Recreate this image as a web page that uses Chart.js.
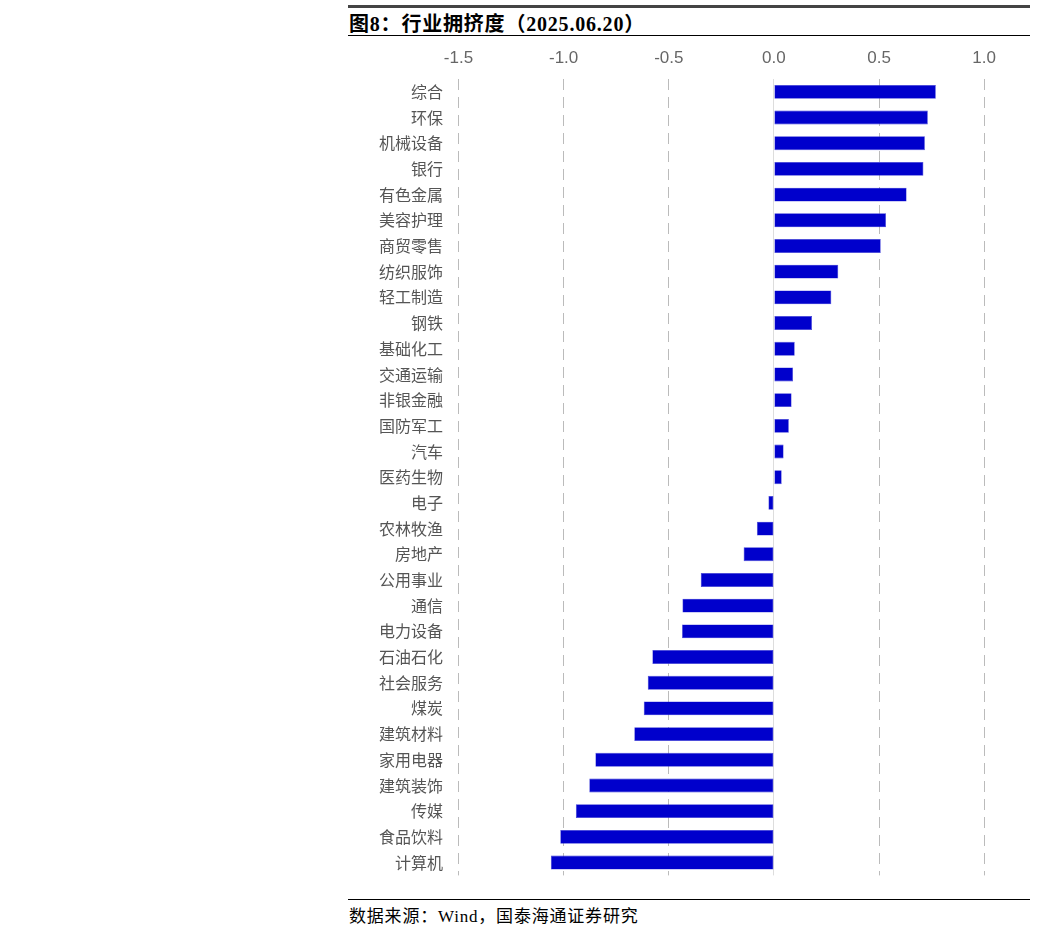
<!DOCTYPE html>
<html>
<head>
<meta charset="utf-8">
<script src="https://cdn.jsdelivr.net/npm/chart.js@4.4.0/dist/chart.umd.min.js"></script>
<style>
  html, body { margin: 0; padding: 0; background: #fff; }
  #page { position: relative; width: 1037px; height: 926px; }
  .rule-top { position: absolute; left: 348px; top: 5px; width: 682px; height: 3px; background: #444; }
  .title { position: absolute; left: 349px; top: 8px; font: bold 20px "Liberation Serif", "Noto Sans CJK SC", serif; letter-spacing: 0.8px; color: #000; white-space: nowrap; }
  .rule-title { position: absolute; left: 348px; top: 35px; width: 682px; height: 1px; background: #000; }
  .rule-bottom { position: absolute; left: 348px; top: 899px; width: 682px; height: 1px; background: #000; }
  .source { position: absolute; left: 349px; top: 902px; font: 17px "Liberation Serif", "Noto Sans CJK SC", serif; letter-spacing: 0.8px; color: #000; white-space: nowrap; }
  #wrap { position: absolute; left: 348px; top: 36px; width: 658px; height: 854px; }
</style>
</head>
<body>
<div id="page">
  <div class="rule-top"></div>
  <div class="title">图8：行业拥挤度（2025.06.20）</div>
  <div class="rule-title"></div>
  <div id="wrap"><canvas id="crowdChart"></canvas></div>
  <div class="rule-bottom"></div>
  <div class="source">数据来源：Wind，国泰海通证券研究</div>
</div>
<script>
// 行业拥挤度 — 数据
const industries = ['综合', '环保', '机械设备', '银行', '有色金属', '美容护理', '商贸零售', '纺织服饰',
  '轻工制造', '钢铁', '基础化工', '交通运输', '非银金融', '国防军工', '汽车', '医药生物', '电子',
  '农林牧渔', '房地产', '公用事业', '通信', '电力设备', '石油石化', '社会服务', '煤炭', '建筑材料',
  '家用电器', '建筑装饰', '传媒', '食品饮料', '计算机'];
const crowding = [0.77, 0.732, 0.718, 0.711, 0.631, 0.533, 0.508, 0.306,
  0.273, 0.181, 0.099, 0.091, 0.084, 0.071, 0.046, 0.037, -0.026,
  -0.081, -0.144, -0.348, -0.435, -0.437, -0.578, -0.600, -0.619, -0.664,
  -0.849, -0.878, -0.942, -1.016, -1.061];
const xTicks = [-1.5, -1.0, -0.5, 0.0, 0.5, 1.0];

const ctx = document.getElementById('crowdChart');
new Chart(ctx, {
  type: 'bar',
  data: {
    labels: industries,
    datasets: [{
      data: crowding,
      backgroundColor: '#0000CC',
      borderColor: '#3A3AD6',
      borderWidth: 0.6,
      borderSkipped: false,
      categoryPercentage: 1,
      barPercentage: 0.54
    }]
  },
  options: {
    indexAxis: 'y',
    responsive: true,
    maintainAspectRatio: false,
    animation: false,
    layout: { padding: 0 },
    plugins: { legend: { display: false }, tooltip: { enabled: false } },
    scales: {
      x: {
        position: 'top',
        min: -1.55,
        max: 1.08,
        afterBuildTicks: (scale) => { scale.ticks = xTicks.map(v => ({ value: v })); },
        afterFit: (scale) => { scale.height = 43; },
        ticks: {
          padding: 10,
          color: '#666',
          font: { family: 'Liberation Sans', size: 17 },
          callback: v => Number(v).toFixed(1)
        },
        grid: {
          drawTicks: false,
          lineWidth: 1,
          color: c => (c.tick && c.tick.value === 0) ? '#DDDDDD' : '#BBBBBB'
        },
        border: {
          display: false,
          dash: c => (c.tick && c.tick.value === 0) ? [] : [11, 7]
        }
      },
      y: {
        afterFit: (scale) => { scale.width = 100; },
        ticks: {
          padding: 5,
          color: '#555',
          font: { family: 'Noto Sans CJK SC', size: 16 }
        },
        grid: { display: false, drawTicks: false },
        border: { display: false }
      }
    }
  }
});
</script>
</body>
</html>
